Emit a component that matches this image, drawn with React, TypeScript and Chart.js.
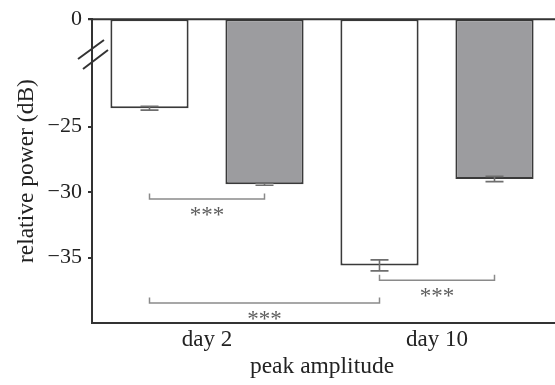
import { useEffect, useRef } from 'react';
import { Chart, registerables } from 'chart.js';

Chart.register(...registerables);

const categories = ['day 2', 'day 10'];
const whiteValues = [-23.6, -35.6];
const greyValues = [-29.4, -29.0];
const whiteErrors = [0.14, 0.42];
const greyErrors = [0.08, 0.2];
const yTickValues = [-35, -30, -25];
const axisTop = -16.8; // drawn as "0" (broken axis)
const axisBottom = -40;
const topLabel = '0';
const breakValue = -19.5;
// significance brackets: [dataset, index] of left and right ends, level in dB
const bracketLeft: [number, number][] = [[0, 0], [0, 0], [0, 1]];
const bracketRight: [number, number][] = [[1, 0], [0, 1], [1, 1]];
const bracketLevels = [-30.53, -38.48, -36.74];
const bracketLabels = ['***', '***', '***'];

const FONT = "'Liberation Serif', 'Times New Roman', serif";
const AXIS = '#333333';
const TEXT = '#222222';
const ERR = '#6e6e6e';
const BRACKET = '#8a8a8a';

export default function App() {
  const ref = useRef<HTMLCanvasElement>(null);

  useEffect(() => {
    document.body.style.margin = '0';
    const canvas = ref.current!;
    const errs = [whiteErrors, greyErrors];
    const vals = [whiteValues, greyValues];

    const overlay = {
      id: 'overlay',
      afterDatasetsDraw(chart: any) {
        const ctx = chart.ctx;
        const y = chart.scales.y;
        ctx.save();
        // error bars
        for (let d = 0; d < 2; d++) {
          const meta = chart.getDatasetMeta(d);
          meta.data.forEach((el: any, i: number) => {
            const v = vals[d][i];
            const e = errs[d][i];
            const x = el.x;
            const y1 = y.getPixelForValue(v + e);
            const y2 = y.getPixelForValue(v - e);
            ctx.strokeStyle = ERR;
            ctx.lineWidth = 1.6;
            ctx.beginPath();
            ctx.moveTo(x, y1);
            ctx.lineTo(x, y2);
            ctx.moveTo(x - 9, y1);
            ctx.lineTo(x + 9, y1);
            ctx.moveTo(x - 9, y2);
            ctx.lineTo(x + 9, y2);
            ctx.stroke();
          });
        }
        // brackets
        bracketLevels.forEach((lvl, k) => {
          const [da, ia] = bracketLeft[k];
          const [db, ib] = bracketRight[k];
          const xa = chart.getDatasetMeta(da).data[ia].x;
          const xb = chart.getDatasetMeta(db).data[ib].x;
          const yy = y.getPixelForValue(lvl);
          const yt = y.getPixelForValue(lvl + 0.42);
          ctx.strokeStyle = BRACKET;
          ctx.lineWidth = 1.5;
          ctx.beginPath();
          ctx.moveTo(xa, yt);
          ctx.lineTo(xa, yy);
          ctx.lineTo(xb, yy);
          ctx.lineTo(xb, yt);
          ctx.stroke();
          ctx.fillStyle = '#5e5e5e';
          ctx.font = `23px ${FONT}`;
          ctx.textAlign = 'center';
          ctx.textBaseline = 'alphabetic';
          ctx.fillText(bracketLabels[k], (xa + xb) / 2, yy + 23);
        });
        ctx.restore();
      },
      afterDraw(chart: any) {
        const ctx = chart.ctx;
        const area = chart.chartArea;
        const y = chart.scales.y;
        ctx.save();
        ctx.strokeStyle = AXIS;
        ctx.lineWidth = 2;
        ctx.beginPath();
        ctx.moveTo(area.left - 4, area.top);
        ctx.lineTo(chart.width, area.top);
        ctx.moveTo(area.right, area.bottom);
        ctx.lineTo(chart.width, area.bottom);
        ctx.stroke();
        // axis break marks
        const ax = area.left;
        const yb = y.getPixelForValue(breakValue);
        ctx.lineWidth = 2;
        ctx.beginPath();
        ctx.moveTo(ax - 14, yb + 4.5);
        ctx.lineTo(ax + 12, yb - 14.5);
        ctx.moveTo(ax - 9, yb + 14.5);
        ctx.lineTo(ax + 16, yb - 4.5);
        ctx.stroke();
        ctx.restore();
      },
    };

    const chart = new Chart(canvas, {
      type: 'bar',
      data: {
        labels: categories,
        datasets: [
          {
            data: whiteValues.map((v) => [axisTop, v]),
            backgroundColor: '#ffffff',
            borderColor: '#3a3a3a',
            borderWidth: 2,
            borderSkipped: false,
            categoryPercentage: 1,
            barPercentage: 0.68,
          },
          {
            data: greyValues.map((v) => [axisTop, v]),
            backgroundColor: '#9c9c9f',
            borderColor: '#3a3a3a',
            borderWidth: 2,
            borderSkipped: false,
            categoryPercentage: 1,
            barPercentage: 0.68,
          },
        ] as any,
      },
      options: {
        animation: false,
        responsive: false,
        devicePixelRatio: 1,
        layout: { padding: { left: 13, top: 17, right: 3, bottom: 4 } },
        plugins: { legend: { display: false }, tooltip: { enabled: false } },
        scales: {
          x: {
            grid: { display: false, drawTicks: false },
            border: { display: true, color: AXIS, width: 2 },
            ticks: { color: TEXT, font: { family: FONT, size: 23 }, padding: 3 },
            title: {
              display: true,
              text: 'peak amplitude',
              color: TEXT,
              font: { family: FONT, size: 23.5 },
              padding: 0,
            },
            afterFit: (s: any) => {
              s.height = 58;
            },
          },
          y: {
            min: axisBottom,
            max: axisTop,
            afterBuildTicks: (s: any) => {
              s.ticks = [...yTickValues, axisTop].map((v) => ({ value: v }));
            },
            ticks: {
              color: TEXT,
              font: { family: FONT, size: 22 },
              padding: 6,
              callback: (v: any) =>
                Math.abs(Number(v) - axisTop) < 1e-6 ? topLabel : '\u2212' + Math.abs(Number(v)),
            },
            grid: {
              drawOnChartArea: false,
              drawTicks: true,
              tickLength: 4,
              color: AXIS,
              lineWidth: 2,
            },
            border: { display: true, color: AXIS, width: 2 },
            title: {
              display: true,
              text: 'relative power (dB)',
              color: TEXT,
              font: { family: FONT, size: 23.5 },
              padding: 0,
            },
            afterFit: (s: any) => {
              s.width = 79;
            },
          },
        },
      } as any,
      plugins: [overlay],
    });
    return () => chart.destroy();
  }, []);

  return <canvas ref={ref} width={555} height={385} style={{ display: 'block' }} />;
}
